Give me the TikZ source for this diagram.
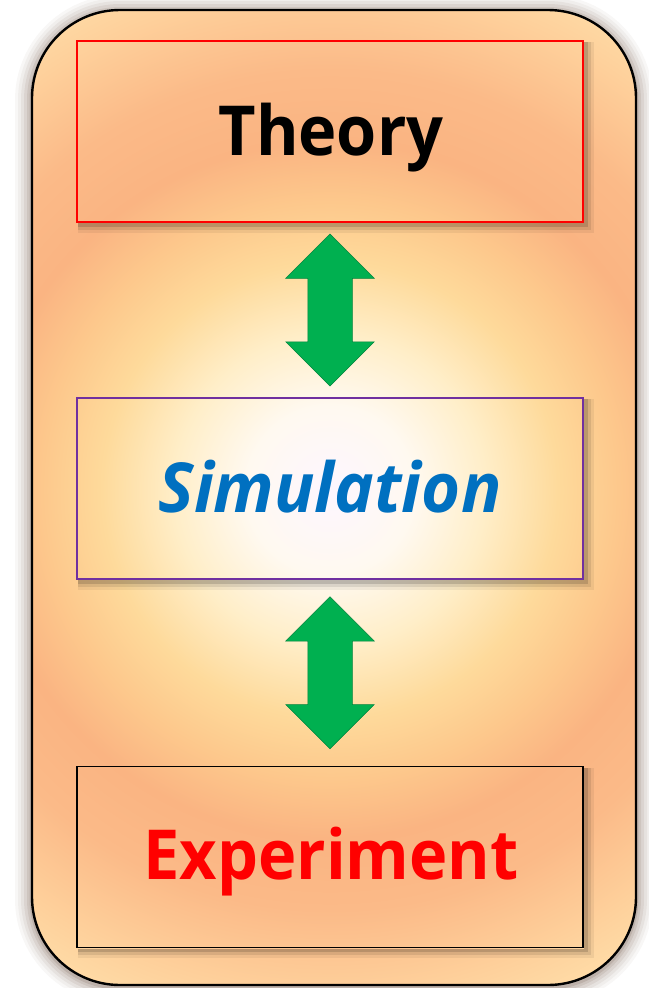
\documentclass[tikz,border=0pt]{standalone}
\usepackage{fontspec}
\setmainfont{Open Sans}
\usetikzlibrary{shapes.arrows,calc}
\definecolor{g0}{RGB}{253,246,255}
\definecolor{g1}{RGB}{255,249,240}
\definecolor{g2}{RGB}{255,238,200}
\definecolor{g3}{RGB}{254,218,155}
\definecolor{g4}{RGB}{253,200,140}
\definecolor{g5}{RGB}{250,180,130}
\definecolor{g6}{RGB}{251,186,136}
\definecolor{g7}{RGB}{254,208,155}
\definecolor{g8}{RGB}{255,225,172}
\definecolor{g9}{RGB}{255,235,205}
\definecolor{arrowgreen}{RGB}{0,176,80}
\definecolor{simblue}{RGB}{0,112,192}
\definecolor{simpurple}{RGB}{112,48,160}
\definecolor{glowc}{RGB}{115,90,75}
\pgfdeclareradialshading{bgglow}{\pgfpoint{0bp}{0bp}}{color(0bp)=(g0); color(3.5bp)=(g1); color(6.5bp)=(g2); color(9.5bp)=(g3); color(12bp)=(g4); color(14.5bp)=(g5); color(17.5bp)=(g6); color(21bp)=(g7); color(24bp)=(g8); color(28bp)=(g9); color(50bp)=(g9)}
\pgfdeclarelayer{bg}
\pgfsetlayers{bg,main}
\tikzset{
  box/.style={rectangle, minimum width=506pt, minimum height=181pt, inner sep=0pt, line width=1.8pt},
  lbl/.style={anchor=base, inner sep=0pt},
  dblarrow/.style={double arrow, rotate=90, minimum height=152pt, minimum width=88pt,
    double arrow head extend=22pt, double arrow tip angle=90, inner xsep=0pt, inner ysep=22pt,
    fill=arrowgreen, draw=arrowgreen!75!black, line width=0.5pt},
}
\newcommand{\glowfill}{\shade[shading=bgglow] (330,490) circle (600pt);}
\begin{document}
\begin{tikzpicture}[x=1pt,y=-1pt]
\useasboundingbox (0,0) rectangle (648,988);
% boxes
\node[box, draw=red] (theory) at (330,131.5) {};
\node[lbl, font=\fontsize{69}{76}\selectfont\bfseries, text=black] (theorytxt) at (331,155) {\scalebox{0.94}[1]{Theory}};
\node[box, draw=simpurple] (sim) at (330,488.5) {};
\node[lbl, font=\fontsize{69}{76}\selectfont\bfseries\itshape, text=simblue] (simtxt) at (330,512) {\scalebox{0.97}[1]{Simulation}};
\node[box, draw=black] (exp) at (330,857) {};
\node[lbl, font=\fontsize{69}{76}\selectfont\bfseries, text=red] (exptxt) at (331,879) {\scalebox{0.94}[1]{Experiment}};
% arrows
\node[dblarrow] (a1) at ($(theory.south)!0.5!(sim.north)$) {};
\node[dblarrow] (a2) at ($(sim.south)!0.5!(exp.north)$) {};
\begin{pgfonlayer}{bg}
  % outer glow
  \foreach \w/\o in {34/0.05,28/0.06,22/0.08,16/0.1,10/0.13,5/0.18} {
    \draw[glowc, opacity=\o, line width=\w pt, rounded corners=88pt] (32,12) rectangle (636,987);
  }
  \begin{scope}
    \clip[rounded corners=88pt] (32,10) rectangle (636,985);
    \glowfill
  \end{scope}
  % box shadows
  \foreach \n in {theory,sim,exp} {
    \fill[black, opacity=0.06] ($(\n.north west)+(2,2)$) rectangle ($(\n.south east)+(10,10)$);
    \fill[black, opacity=0.09] ($(\n.north west)+(2,2)$) rectangle ($(\n.south east)+(7,7)$);
    \fill[black, opacity=0.14] ($(\n.north west)+(2,2)$) rectangle ($(\n.south east)+(4,4)$);
    \begin{scope}
      \clip (\n.north west) rectangle (\n.south east);
      \glowfill
    \end{scope}
  }
  \draw[black, line width=2.4pt, rounded corners=88pt] (32,10) rectangle (636,985);
\end{pgfonlayer}
\end{tikzpicture}
\end{document}
